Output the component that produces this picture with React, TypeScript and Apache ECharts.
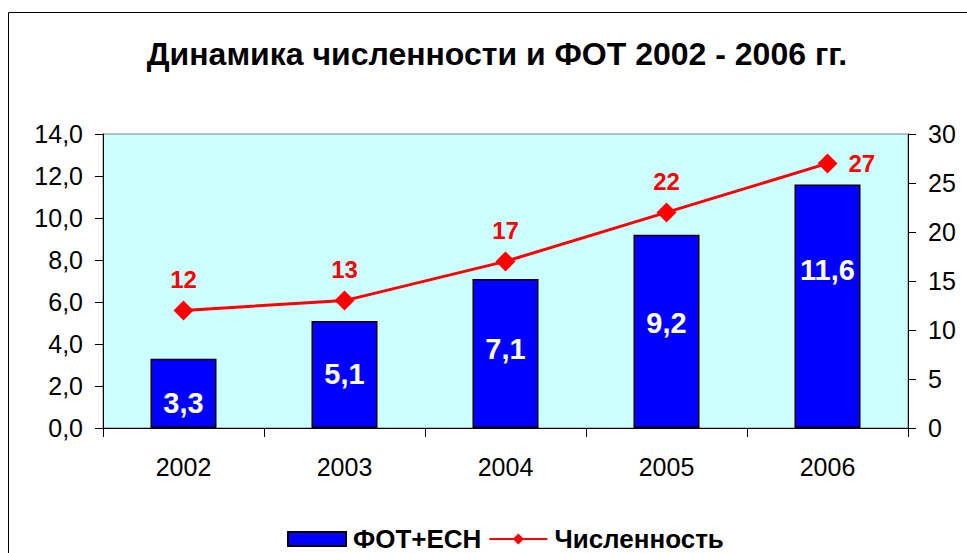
import React, { useEffect, useRef } from "react";
import * as echarts from "echarts";

const categories = ["2002", "2003", "2004", "2005", "2006"];
const fotValues = [3.3, 5.1, 7.1, 9.2, 11.6];
const headcountValues = [12, 13, 17, 22, 27];
const titleText = "Динамика численности и ФОТ 2002 - 2006 гг.";
const fotName = "ФОТ+ЕСН";
const headcountName = "Численность";

const FONT = "'Liberation Sans', Arial, sans-serif";
const comma = (v: number, d: number) => v.toFixed(d).replace(".", ",");

export default function App() {
  const ref = useRef<HTMLDivElement>(null);
  useEffect(() => {
    if (!ref.current) return;
    const chart = echarts.init(ref.current, undefined, { renderer: "svg" });
    const barLabelShift = [10, 0, -4, -8, -36];
    const last = headcountValues.length - 1;
    chart.setOption({
      animation: false,
      textStyle: { fontFamily: FONT },
      graphic: [
        {
          type: "rect",
          shape: { x: 8.5, y: 12.5, width: 1000, height: 600 },
          style: { fill: "none", stroke: "#000", lineWidth: 1 },
          silent: true,
        },
        {
          type: "text",
          x: 497,
          y: 54,
          style: {
            text: titleText,
            font: `bold 32px ${FONT}`,
            fill: "#000",
            textAlign: "center",
            textVerticalAlign: "middle",
          },
        },
      ],
      grid: {
        left: 103,
        right: 59,
        top: 134,
        bottom: 125,
        show: true,
        backgroundColor: "#CCFFFF",
        borderColor: "#808080",
        borderWidth: 1,
      },
      legend: {
        left: 282,
        top: 521,
        itemWidth: 58,
        itemHeight: 14,
        itemGap: 7,
        textStyle: { fontSize: 26, fontWeight: "bold", color: "#000", fontFamily: FONT, padding: [0, 0, 0, 2] },
        data: [
          { name: fotName, icon: "rect" },
          { name: headcountName },
        ],
      },
      xAxis: {
        type: "category",
        data: categories,
        axisLine: { lineStyle: { color: "#000", width: 1 } },
        axisTick: { show: true, length: 9, lineStyle: { color: "#000" } },
        axisLabel: { fontSize: 25, color: "#000", margin: 26, fontFamily: FONT },
      },
      yAxis: [
        {
          type: "value",
          min: 0,
          max: 14,
          interval: 2,
          position: "left",
          splitLine: { show: false },
          axisLine: { show: true, lineStyle: { color: "#000" } },
          axisTick: { show: true, length: 8, lineStyle: { color: "#000" } },
          axisLabel: { fontSize: 25, color: "#000", margin: 20, fontFamily: FONT, formatter: (v: number) => comma(v, 1) },
        },
        {
          type: "value",
          min: 0,
          max: 30,
          interval: 5,
          position: "right",
          splitLine: { show: false },
          axisLine: { show: true, lineStyle: { color: "#000" } },
          axisTick: { show: true, length: 8, lineStyle: { color: "#000" } },
          axisLabel: { fontSize: 25, color: "#000", margin: 20, fontFamily: FONT },
        },
      ],
      series: [
        {
          name: fotName,
          type: "bar",
          yAxisIndex: 0,
          barWidth: "41%",
          itemStyle: { color: "#0000FF", borderColor: "#000", borderWidth: 1.5 },
          data: fotValues.map((v, i) => ({
            value: v,
            label: { offset: [0, barLabelShift[i]] },
          })),
          label: {
            show: true,
            position: "inside",
            color: "#fff",
            fontSize: 29,
            fontWeight: "bold",
            fontFamily: FONT,
            formatter: (p: any) => comma(p.value, 1),
          },
        },
        {
          name: headcountName,
          type: "line",
          yAxisIndex: 1,
          symbol: "diamond",
          symbolSize: 20,
          lineStyle: { color: "#FF0000", width: 3 },
          itemStyle: { color: "#FF0000" },
          data: headcountValues.map((v, i) =>
            i === last ? { value: v, label: { position: "right", distance: 11 } } : v
          ),
          label: {
            show: true,
            position: "top",
            distance: 9,
            color: "#FF0000",
            fontSize: 24,
            fontWeight: "bold",
            fontFamily: FONT,
          },
        },
      ],
    });
    return () => chart.dispose();
  }, []);
  return (
    <div
      ref={ref}
      style={{ position: "absolute", left: 0, top: 0, width: 967, height: 553, background: "#fff" }}
    />
  );
}
